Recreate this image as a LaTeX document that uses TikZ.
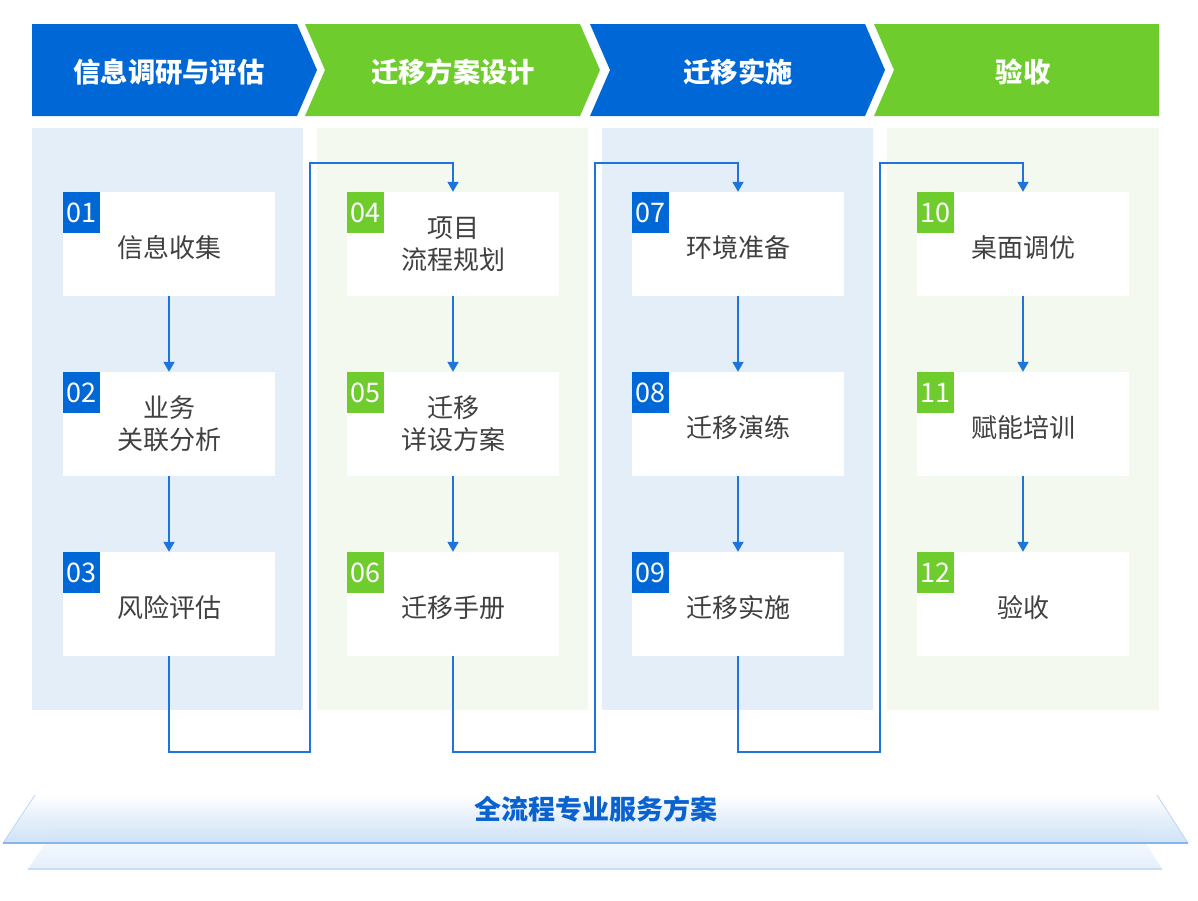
\documentclass[tikz,border=0pt]{standalone}
\usepackage{fontspec}
\newfontfamily\cjk{Noto Sans CJK SC}
\usetikzlibrary{arrows.meta,calc}
\definecolor{hblue}{RGB}{0,104,214}
\definecolor{hgreen}{RGB}{110,204,45}
\definecolor{bgblue}{RGB}{228,238,249}
\definecolor{bggreen}{RGB}{243,249,238}
\definecolor{txtgray}{RGB}{64,64,64}
\definecolor{conncol}{RGB}{28,116,220}
\definecolor{foottxt}{RGB}{10,98,208}
\definecolor{platA}{RGB}{200,222,246}
\definecolor{platB}{RGB}{228,239,251}
\definecolor{platedge}{RGB}{134,182,234}
\newcommand{\oneline}[1]{\raisebox{-4pt}[\height][\depth]{#1}}
\begin{document}
\begin{tikzpicture}[x=1pt,y=-1pt,
  headtxt/.style={text=white,font=\cjk\bfseries\fontsize{27.3}{30}\selectfont,inner sep=0pt},
  box/.style={fill=white,minimum width=212pt,minimum height=104pt,inner sep=0pt,align=center,
    text=txtgray,font=\cjk\fontsize{26}{32}\selectfont},
  badge/.style={anchor=north west,minimum width=37pt,minimum height=41pt,inner sep=0pt,
    text=white,font=\cjk\fontsize{27}{28}\selectfont},
  badgeB/.style={badge,fill=hblue},
  badgeG/.style={badge,fill=hgreen},
  conn/.style={draw=conncol,line width=1.8pt,-{Triangle[width=11pt,length=10pt]}},
  foot/.style={text=foottxt,font=\cjk\bfseries\fontsize{27}{30}\selectfont,inner sep=0pt}]
\useasboundingbox (0,0) rectangle (1198,900);
\fill[white] (0,0) rectangle (1198,900);
% header chevrons
\fill[hblue] (32,24) -- (297,24) -- (317,70) -- (297,116) -- (32,116) -- cycle;
\fill[hgreen] (305,24) -- (580,24) -- (600,70) -- (580,116) -- (305,116) -- (325,70) -- cycle;
\fill[hblue] (590,24) -- (865,24) -- (885,70) -- (865,116) -- (590,116) -- (610,70) -- cycle;
\fill[hgreen] (874,24) -- (1159,24) -- (1159,116) -- (874,116) -- (894,70) -- cycle;
\node[headtxt] (h1) at (169,72) {信息调研与评估};
\node[headtxt] (h2) at (453,72) {迁移方案设计};
\node[headtxt] (h3) at (738,72) {迁移实施};
\node[headtxt] (h4) at (1023,72) {验收};
% column backgrounds
\fill[bgblue] (32,128) rectangle (303,710);
\fill[bggreen] (317,128) rectangle (588,710);
\fill[bgblue] (602,128) rectangle (873,710);
\fill[bggreen] (887,128) rectangle (1159,710);
% boxes
\node[box] (b01) at (169,244) {\oneline{信息收集}};
\node[box] (b02) at (169,424) {业务\\关联分析};
\node[box] (b03) at (169,604) {\oneline{风险评估}};
\node[box] (b04) at (453,244) {项目\\流程规划};
\node[box] (b05) at (453,424) {迁移\\详设方案};
\node[box] (b06) at (453,604) {\oneline{迁移手册}};
\node[box] (b07) at (738,244) {\oneline{环境准备}};
\node[box] (b08) at (738,424) {\oneline{迁移演练}};
\node[box] (b09) at (738,604) {\oneline{迁移实施}};
\node[box] (b10) at (1023,244) {\oneline{桌面调优}};
\node[box] (b11) at (1023,424) {\oneline{赋能培训}};
\node[box] (b12) at (1023,604) {\oneline{验收}};
% badges
\node[badgeB] (n01) at (b01.north west) {01};
\node[badgeB] (n02) at (b02.north west) {02};
\node[badgeB] (n03) at (b03.north west) {03};
\node[badgeG] (n04) at (b04.north west) {04};
\node[badgeG] (n05) at (b05.north west) {05};
\node[badgeG] (n06) at (b06.north west) {06};
\node[badgeB] (n07) at (b07.north west) {07};
\node[badgeB] (n08) at (b08.north west) {08};
\node[badgeB] (n09) at (b09.north west) {09};
\node[badgeG] (n10) at (b10.north west) {10};
\node[badgeG] (n11) at (b11.north west) {11};
\node[badgeG] (n12) at (b12.north west) {12};
% vertical connectors
\draw[conn] (b01.south) -- (b02.north);
\draw[conn] (b02.south) -- (b03.north);
\draw[conn] (b04.south) -- (b05.north);
\draw[conn] (b05.south) -- (b06.north);
\draw[conn] (b07.south) -- (b08.north);
\draw[conn] (b08.south) -- (b09.north);
\draw[conn] (b10.south) -- (b11.north);
\draw[conn] (b11.south) -- (b12.north);
% U connectors
\coordinate (u1) at (310,752); \coordinate (t1) at (310,163);
\coordinate (u2) at (595,752); \coordinate (t2) at (595,163);
\coordinate (u3) at (880,752); \coordinate (t3) at (880,163);
\draw[conn] (b03.south) |- (u1) -- (t1) -| (b04.north);
\draw[conn] (b06.south) |- (u2) -- (t2) -| (b07.north);
\draw[conn] (b09.south) |- (u3) -- (t3) -| (b10.north);
% bottom platforms
\shade[top color=white,bottom color=platB] (59,823) -- (1133,823) -- (1162,869) -- (28,869) -- cycle;
\draw[draw=platA,line width=1.5pt] (28,869) -- (1162,869);
\shade[top color=white,bottom color=platA,middle color=platA!55,fill opacity=0.85] (35,795) -- (1157,795) -- (1188,843) -- (3,843) -- cycle;
\draw[draw=platA!80!platedge,line width=0.8pt] (3,843) -- (35,795);
\draw[draw=platA!80!platedge,line width=0.8pt] (1188,843) -- (1157,795);
\draw[draw=platedge,line width=2pt] (3,843) -- (1188,843);
\node[foot] (ft) at (596,809) {全流程专业服务方案};
\end{tikzpicture}
\end{document}
